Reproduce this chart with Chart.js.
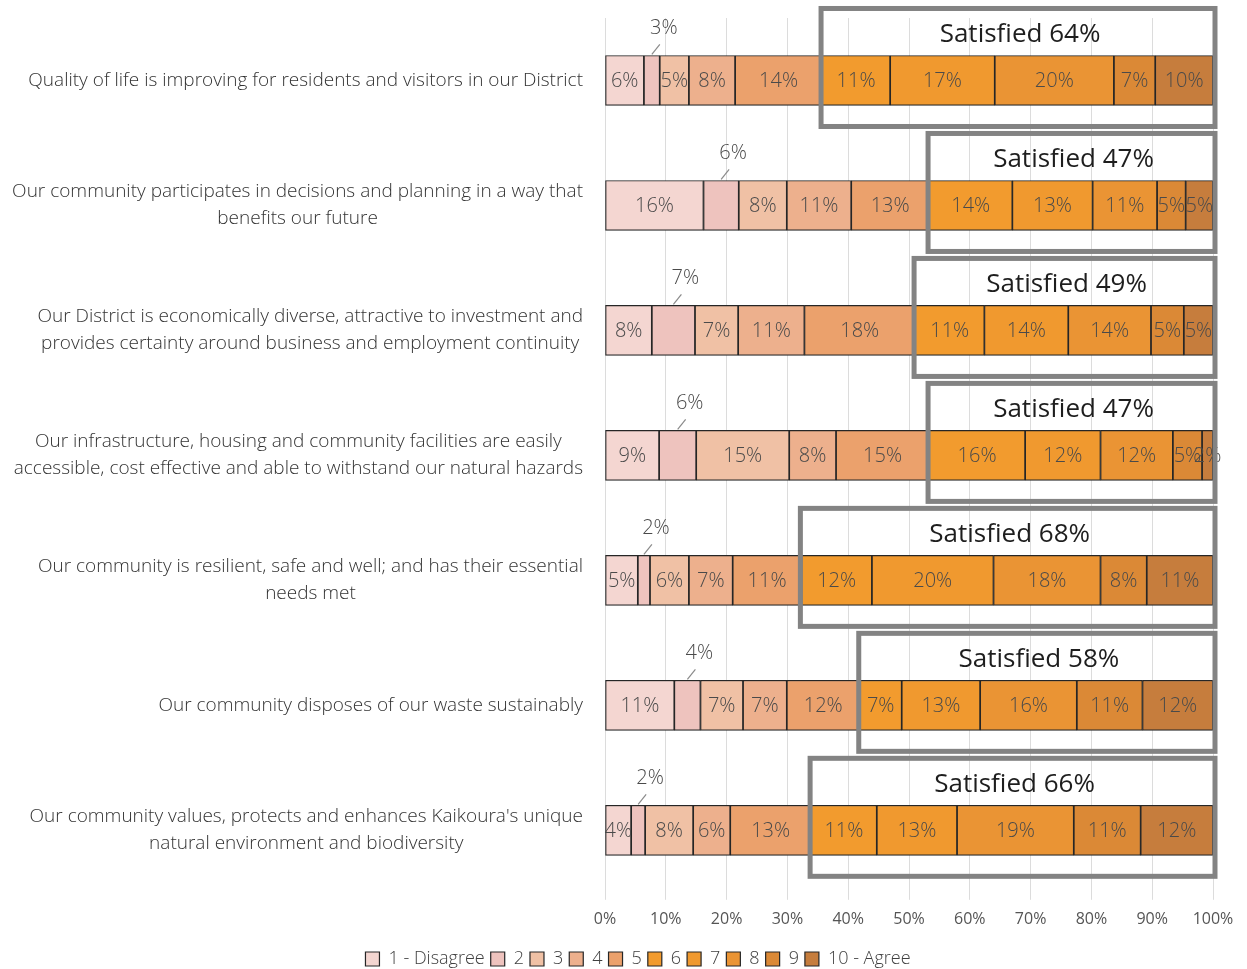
<!DOCTYPE html>
<html>
<head>
<meta charset="utf-8">
<script src="https://cdn.jsdelivr.net/npm/chart.js@4.4.1/dist/chart.umd.min.js"></script>
<style>
  html, body { margin: 0; padding: 0; background: #fff; }
  #wrap { width: 1247px; height: 969px; }
</style>
</head>
<body>
<div id="wrap"><canvas id="chart"></canvas></div>
<script>
const categories = [
  ["Quality of life is improving for residents and visitors in our District"],
  ["Our community participates in decisions and planning in a way that", "benefits our future"],
  ["Our District is economically diverse, attractive to investment and", "provides certainty around business and employment continuity"],
  ["Our infrastructure, housing and community facilities are easily", "accessible, cost effective and able to withstand our natural hazards"],
  ["Our community is resilient, safe and well; and has their essential", "needs met"],
  ["Our community disposes of our waste sustainably"],
  ["Our community values, protects and enhances Kaikoura's unique", "natural environment and biodiversity"]
];

const seriesNames = ["1 - Disagree", "2", "3", "4", "5", "6", "7", "8", "9", "10 - Agree"];
const seriesColors = ["#f4d6d1", "#eec3be", "#f0c1a5", "#edb08d", "#eba16c", "#f29b2e", "#f0992f", "#ea9434", "#db8936", "#c67d3d"];

// share of respondents (%) per rating, one value per category
const r1 = [6.4, 16.2, 7.7, 8.9, 5.4, 11.4, 4.3];
const r2 = [2.6, 5.8, 7.1, 6.1, 2.0, 4.3, 2.3];
const r3 = [4.8, 7.9, 7.1, 15.3, 6.4, 7.0, 7.9];
const r4 = [7.6, 10.6, 10.9, 7.7, 7.2, 7.2, 6.1];
const r5 = [14.3, 12.8, 18.2, 15.3, 11.3, 12.0, 13.3];
const r6 = [11.2, 13.7, 11.4, 15.8, 11.6, 6.9, 10.8];
const r7 = [17.2, 13.2, 13.8, 12.4, 20.0, 12.9, 13.2];
const r8 = [19.6, 10.6, 13.6, 11.9, 17.6, 15.9, 19.2];
const r9 = [6.8, 4.7, 5.4, 4.8, 7.6, 10.8, 11.0];
const r10 = [9.5, 4.5, 4.8, 1.8, 10.9, 11.6, 11.9];

const satisfied = [64, 47, 49, 47, 68, 58, 66];
const xTickValues = [0, 10, 20, 30, 40, 50, 60, 70, 80, 90, 100];

const series = [r1, r2, r3, r4, r5, r6, r7, r8, r9, r10];
const FONT = "'Open Sans', 'Noto Sans', sans-serif";

// segment labels, the "2" label sits above its bar with a little leader line
const segmentLabels = {
  id: "segmentLabels",
  afterDatasetsDraw(chart) {
    const ctx = chart.ctx;
    ctx.save();
    ctx.font = "300 20px " + FONT;
    ctx.fillStyle = "#4a4a4a";
    ctx.textAlign = "center";
    ctx.textBaseline = "middle";
    chart.data.datasets.forEach((ds, di) => {
      chart.getDatasetMeta(di).data.forEach((bar, i) => {
        const txt = Math.round(ds.data[i]) + "%";
        const cx = (bar.x + bar.base) / 2;
        if (di === 1) {
          const top = bar.y - bar.height / 2;
          ctx.strokeStyle = "#8a8a8a";
          ctx.lineWidth = 1.2;
          ctx.beginPath();
          ctx.moveTo(cx, top - 1);
          ctx.lineTo(cx + 8, top - 11);
          ctx.stroke();
          ctx.fillText(txt, cx + 12, top - 27);
        } else {
          ctx.fillText(txt, cx, bar.y + 1);
        }
      });
    });
    ctx.restore();
  }
};

// grey "Satisfied" frames around ratings 6-10
const satisfiedBoxes = {
  id: "satisfiedBoxes",
  afterDatasetsDraw(chart) {
    const ctx = chart.ctx;
    const meta6 = chart.getDatasetMeta(5);
    const right = chart.chartArea.right + 2;
    ctx.save();
    meta6.data.forEach((bar, i) => {
      const left = bar.base - 1;
      const top = bar.y - bar.height / 2 - 47;
      const bottom = bar.y + bar.height / 2 + 21;
      ctx.strokeStyle = "#838383";
      ctx.lineWidth = 5;
      ctx.strokeRect(left, top, right - left, bottom - top);
      ctx.fillStyle = "#1e1e1e";
      ctx.font = "26px " + FONT;
      ctx.textAlign = "center";
      ctx.textBaseline = "middle";
      ctx.fillText("Satisfied " + satisfied[i] + "%", (left + right) / 2 + 2, top + 26);
    });
    ctx.restore();
  }
};

// category labels: block right aligned to the axis, lines centred in the block
const categoryLabels = {
  id: "categoryLabels",
  afterDraw(chart) {
    const ctx = chart.ctx;
    const y = chart.scales.y;
    const rightEdge = chart.chartArea.left - 22;
    const lineH = 27;
    ctx.save();
    ctx.font = "300 19px " + FONT;
    ctx.fillStyle = "#333333";
    ctx.textAlign = "center";
    ctx.textBaseline = "middle";
    categories.forEach((lines, i) => {
      const cy = y.getPixelForValue(i);
      const w = Math.max(...lines.map(l => ctx.measureText(l).width));
      const cx = rightEdge - w / 2;
      lines.forEach((l, k) => {
        ctx.fillText(l, cx, cy + (k - (lines.length - 1) / 2) * lineH);
      });
    });
    ctx.restore();
  }
};

new Chart(document.getElementById("chart"), {
  type: "bar",
  data: {
    labels: categories.map(c => c.join(" ")),
    datasets: series.map((d, k) => ({
      label: seriesNames[k],
      data: d,
      backgroundColor: seriesColors[k],
      borderColor: "#262626",
      borderWidth: 1.2,
      borderSkipped: false,
      barThickness: 50
    }))
  },
  options: {
    indexAxis: "y",
    responsive: true,
    maintainAspectRatio: false,
    animation: false,
    layout: { padding: { left: 63, right: 34, top: 18, bottom: -9 } },
    scales: {
      x: {
        stacked: true,
        min: 0,
        max: 100,
        afterBuildTicks: s => { s.ticks = xTickValues.map(v => ({ value: v })); },
        afterFit: s => { s.height += 5; },
        ticks: {
          callback: v => v + "%",
          font: { family: FONT, size: 16 },
          color: "#555555",
          padding: 10
        },
        grid: { color: "#dcdcdc", tickLength: 7 },
        border: { display: false }
      },
      y: {
        stacked: true,
        ticks: { display: false },
        grid: { display: false },
        border: { display: false },
        afterFit: s => { s.width = 542; }
      }
    },
    plugins: {
      legend: {
        position: "bottom",
        labels: {
          boxWidth: 14,
          boxHeight: 14,
          padding: 6,
          color: "#404040",
          font: { family: FONT, size: 18, weight: "300" }
        }
      },
      tooltip: { enabled: false }
    }
  },
  plugins: [segmentLabels, satisfiedBoxes, categoryLabels]
});
</script>
</body>
</html>
